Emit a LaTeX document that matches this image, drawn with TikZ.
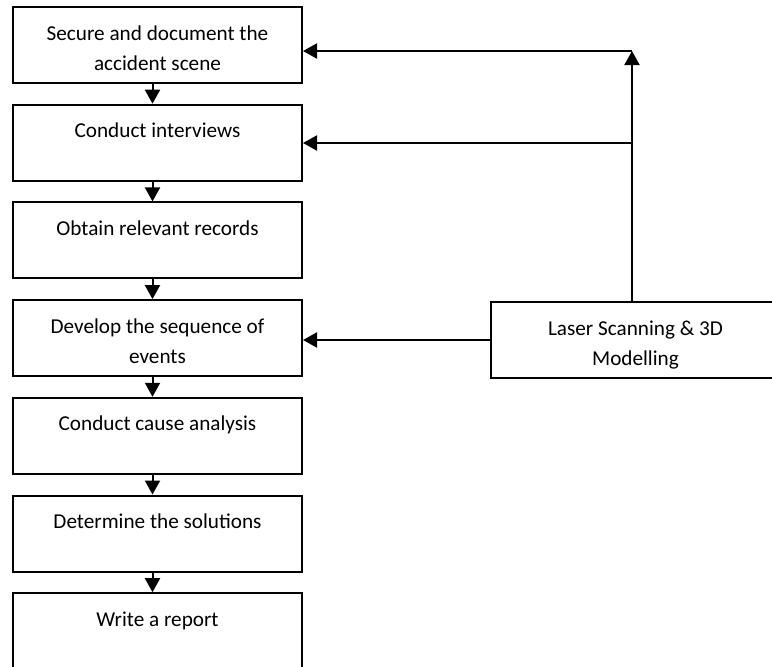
\documentclass[tikz,border=0pt]{standalone}
\usepackage{fontspec}
\setmainfont{Carlito}
\usetikzlibrary{arrows.meta}

\newcommand{\steptext}[1]{\parbox[c][34pt][t]{140.5pt}{\centering\vspace*{4pt}\strut #1}}

\begin{document}
\begin{tikzpicture}[x = 0.5pt, y = -0.5pt,
                    stepbox/.style = {draw, rectangle, line width = 1pt, inner sep = 2pt,
                                      minimum width = 144.5pt, minimum height = 38pt,
                                      font = \fontsize{10.6}{15}\selectfont},
                    flow/.style = {line width = 1pt, -{Triangle[length = 7pt, width = 7.5pt]}}]

                    \clip (0,0) rectangle (772,666);

                    % investigation steps, top to bottom
                    \foreach \i/\txt in {1/{Secure and document the\\accident scene},
                                         2/{Conduct interviews},
                                         3/{Obtain relevant records},
                                         4/{Develop the sequence of\\events},
                                         5/{Conduct cause analysis},
                                         6/{Determine the solutions},
                                         7/{Write a report}}
                    \node[stepbox] (s\i) at (157.5, {45+97.7*(\i-1)}) {\steptext{\txt}};

                    \node[stepbox] (scan) at (635.5,340) {\steptext{Laser Scanning \& 3D\\Modelling}};

                    \foreach \i/\j in {1/2, 2/3, 3/4, 4/5, 5/6, 6/7}
                    \draw[flow] ([xshift=-2.5pt]s\i.south) -- ([xshift=-2.5pt]s\j.north);

                    \coordinate (bend) at (632,51);
                    \coordinate (split) at (632,143);
                    \draw[flow] (scan.north -| bend) -- (bend);
                    \draw[flow] (bend) -- (bend -| s1.east);
                    \draw[flow] (split) -- (split -| s2.east);
                    \draw[flow] (scan.west) -- (scan.west -| s4.east);
                    % \draw[flow] (scan.south) -- (s5.east);
                \end{tikzpicture}
\end{document}
